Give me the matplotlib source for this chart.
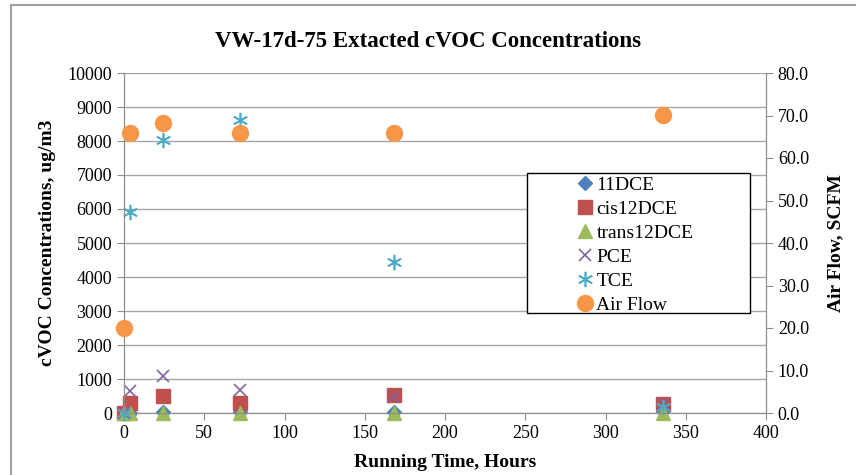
import numpy as np
import matplotlib.pyplot as plt

plt.rcParams['font.family'] = ['Liberation Serif', 'DejaVu Serif']

hours = [0, 4, 24, 72, 168, 336]
dce11 = [0, 10, 20, 20, 20, 60]
cis12dce = [0, 290, 500, 290, 530, 260]
trans12dce = [0, 5, 10, 10, 10, 10]
pce = [0, 650, 1090, 680, 480, 260]
tce = [0, 5900, 8030, 8620, 4430, 180]
air_flow = [20.0, 65.8, 68.2, 65.8, 65.8, 70.2]

W, H = 856, 475
# axes box in pixels: left, right, top, bottom
L, R, T, B = 124, 766, 73, 413

def ax_coords(px, py):
    return (px - L) / (R - L), (B - py) / (B - T)

fig = plt.figure(figsize=(W/100, H/100), dpi=100)
ax = fig.add_axes([L/W, 1-B/H, (R-L)/W, (B-T)/H])
ax2 = ax.twinx()

kw = dict(linestyle='none', clip_on=False, zorder=3)
h1, = ax.plot(hours, dce11, marker='D', ms=7, color='#4F81BD', label='11DCE', **kw)
h2, = ax.plot(hours, cis12dce, marker='s', ms=9.5, color='#C0504D', label='cis12DCE', **kw)
h3, = ax.plot(hours, trans12dce, marker='^', ms=10, color='#9BBB59', label='trans12DCE', **kw)
h4, = ax.plot(hours, pce, marker='x', ms=9, mew=1.2, color='#8064A2', label='PCE', **kw)
h5, = ax.plot(hours, tce, marker=(6, 2, 0), ms=11, mew=1.2, color='#4BACC6', label='TCE', **kw)
h6, = ax2.plot(hours, air_flow, marker='o', ms=11.5, color='#F79646', label='Air Flow', **kw)

ax.set_xlim(0, 400)
ax.set_ylim(0, 10000)
ax2.set_ylim(0, 80)
ax.set_xticks(np.arange(0, 401, 50))
ax.set_yticks(np.arange(0, 10001, 1000))
ax2.set_yticks(np.arange(0, 81, 10))
ax2.set_yticklabels(['%.1f' % v for v in np.arange(0, 81, 10)])

ax.grid(axis='y', color='#A6A6A6', lw=1.0)
ax.set_axisbelow(True)
for a in (ax, ax2):
    for s in a.spines.values():
        s.set_color('#8C8C8C')
    a.spines['top'].set_visible(False)
ax.tick_params(axis='x', direction='out', length=5, color='#8C8C8C', labelsize=13)
ax.tick_params(axis='y', direction='out', length=5, color='#8C8C8C', labelsize=13)
ax2.tick_params(axis='y', direction='out', length=5, color='#8C8C8C', labelsize=13)

ax.set_xlabel('Running Time, Hours', fontsize=14, fontweight='bold', labelpad=9)
ax.set_ylabel('cVOC Concentrations, ug/m3', fontsize=14, fontweight='bold', labelpad=8)
ax2.set_ylabel('Air Flow, SCFM', fontsize=14, fontweight='bold', labelpad=13)
fig.suptitle('VW-17d-75 Extacted cVOC Concentrations', fontsize=16.5, fontweight='bold', y=0.935)

# legend frame drawn separately, entries placed inside it
x0, y0 = ax_coords(527, 313)
x1, y1 = ax_coords(750, 173)
frame = plt.Rectangle((x0, y0), x1 - x0, y1 - y0, transform=ax.transAxes,
                      facecolor='white', edgecolor='black', lw=1.0, zorder=9, clip_on=False)
ax2.add_patch(frame)

lx, ly = ax_coords(575, 176)
leg = ax2.legend(handles=[h1, h2, h3, h4, h5, h6], loc='upper left',
                 bbox_to_anchor=(lx, ly), bbox_transform=ax.transAxes, fontsize=14,
                 frameon=False, borderpad=0, labelspacing=0.33,
                 handlelength=1.0, handletextpad=0.1, borderaxespad=0)
leg.set_zorder(10)

# chart area border (left and top edges visible)
fig.add_artist(plt.Line2D([11/W, 11/W], [0, 1-5/H], transform=fig.transFigure,
                          color='#A0A0A0', lw=1.5))
fig.add_artist(plt.Line2D([11/W, 1], [1-5/H, 1-5/H], transform=fig.transFigure,
                          color='#A0A0A0', lw=1.5))

fig.savefig('out.png', dpi=100)
